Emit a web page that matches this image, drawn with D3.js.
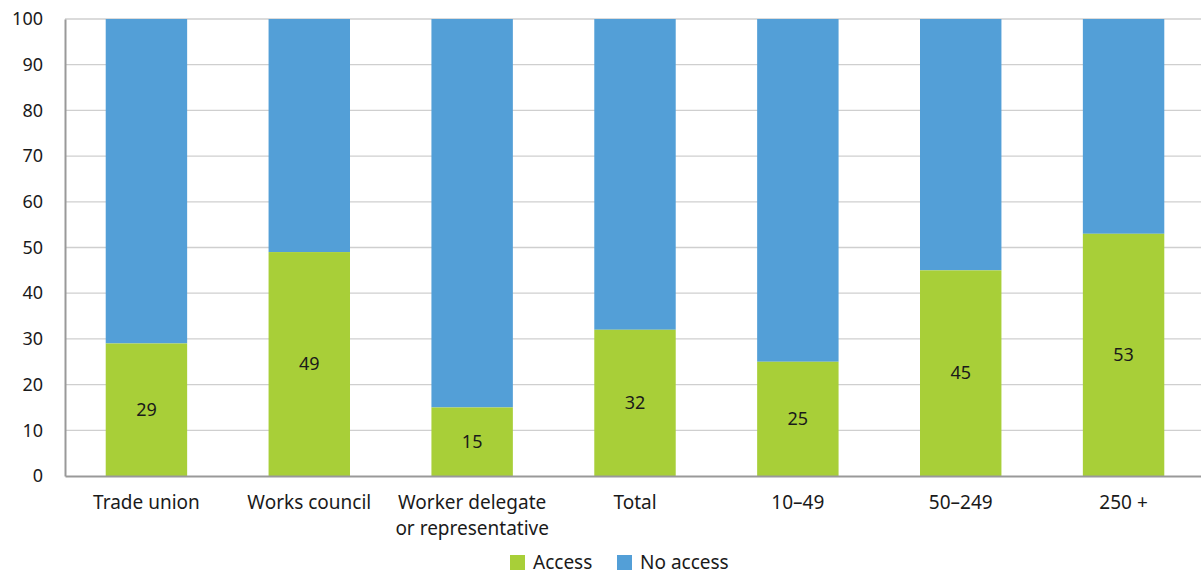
<!DOCTYPE html>
<html>
<head>
<meta charset="utf-8">
<script src="https://cdn.jsdelivr.net/npm/d3@7"></script>
<style>
  body { margin: 0; background: #fff; }
  text { font-family: "Noto Sans", "Open Sans", sans-serif; fill: #1a1a1a; }
</style>
</head>
<body>
<div id="chart"></div>
<script>
// Chart data
const categories = ['Trade union', 'Works council', 'Worker delegate\nor representative', 'Total', '10\u201349', '50\u2013249', '250 +'];
const accessValues = [29, 49, 15, 32, 25, 45, 53];
const seriesNames = ['Access', 'No access'];
const yTicks = [0, 10, 20, 30, 40, 50, 60, 70, 80, 90, 100];
const colors = ['#a8cf38', '#539fd7'];

const width = 1201, height = 575;
const margin = { top: 19, right: 0, bottom: 99, left: 65 };
const innerW = width - margin.left - margin.right;
const innerH = height - margin.top - margin.bottom;

const svg = d3.select('#chart')
    .append('svg')
    .attr('width', width)
    .attr('height', height);

const g = svg.append('g')
    .attr('transform', `translate(${margin.left},${margin.top})`);

// band range runs a little past the right edge, as in the original
const x = d3.scaleBand()
    .domain(categories)
    .range([0, innerW + 4])
    .paddingInner(0.5)
    .paddingOuter(0.25);

const y = d3.scaleLinear()
    .domain([0, 100])
    .range([innerH, 0]);

// Grid lines
g.append('g')
    .selectAll('line')
    .data(yTicks.filter(d => d > 0))
    .enter()
    .append('line')
    .attr('x1', 0)
    .attr('x2', innerW)
    .attr('y1', d => y(d))
    .attr('y2', d => y(d))
    .attr('stroke', '#cfcfcf')
    .attr('stroke-width', 1.3);

// Stacked bars
const rows = categories.map((c, i) => ({ cat: c, access: accessValues[i], noAccess: 100 - accessValues[i] }));

g.selectAll('.bar-no')
    .data(rows)
    .enter()
    .append('rect')
    .attr('x', d => x(d.cat))
    .attr('width', x.bandwidth())
    .attr('y', y(100))
    .attr('height', d => y(d.access) - y(100))
    .attr('fill', colors[1]);

g.selectAll('.bar-acc')
    .data(rows)
    .enter()
    .append('rect')
    .attr('x', d => x(d.cat))
    .attr('width', x.bandwidth())
    .attr('y', d => y(d.access))
    .attr('height', d => y(0) - y(d.access))
    .attr('fill', colors[0]);

// Value labels
g.selectAll('.val')
    .data(rows)
    .enter()
    .append('text')
    .attr('x', d => x(d.cat) + x.bandwidth() / 2)
    .attr('y', d => (y(0) + y(d.access)) / 2)
    .attr('dy', '0.35em')
    .attr('text-anchor', 'middle')
    .style('font-size', '18px')
    .text(d => d.access);

// Y axis
const yAxis = g.append('g')
    .call(d3.axisLeft(y).tickValues(yTicks).tickSize(0).tickPadding(22));
yAxis.select('.domain').attr('stroke', '#999').attr('stroke-width', 2);
yAxis.selectAll('text').style('font-size', '18px').attr('fill', '#1a1a1a');

// X axis
const xAxis = g.append('g')
    .attr('transform', `translate(0,${innerH})`)
    .call(d3.axisBottom(x).tickSize(0).tickFormat(''));
xAxis.select('.domain').attr('stroke', '#999').attr('stroke-width', 2);

xAxis.selectAll('.tick').each(function(d) {
    const t = d3.select(this).append('text')
        .attr('text-anchor', 'middle')
        .attr('y', 33)
        .style('font-size', '19px');
    d.split('\n').forEach((line, i) => {
        t.append('tspan').attr('x', 0).attr('dy', i === 0 ? 0 : 26).text(line);
    });
});

// Legend
const legendX = [510, 617];
const legend = svg.append('g');
seriesNames.forEach((name, i) => {
    legend.append('rect')
        .attr('x', legendX[i])
        .attr('y', 555)
        .attr('width', 15)
        .attr('height', 15)
        .attr('fill', colors[i]);
    legend.append('text')
        .attr('x', legendX[i] + 23)
        .attr('y', 569)
        .style('font-size', '19px')
        .text(name);
});
</script>
</body>
</html>
